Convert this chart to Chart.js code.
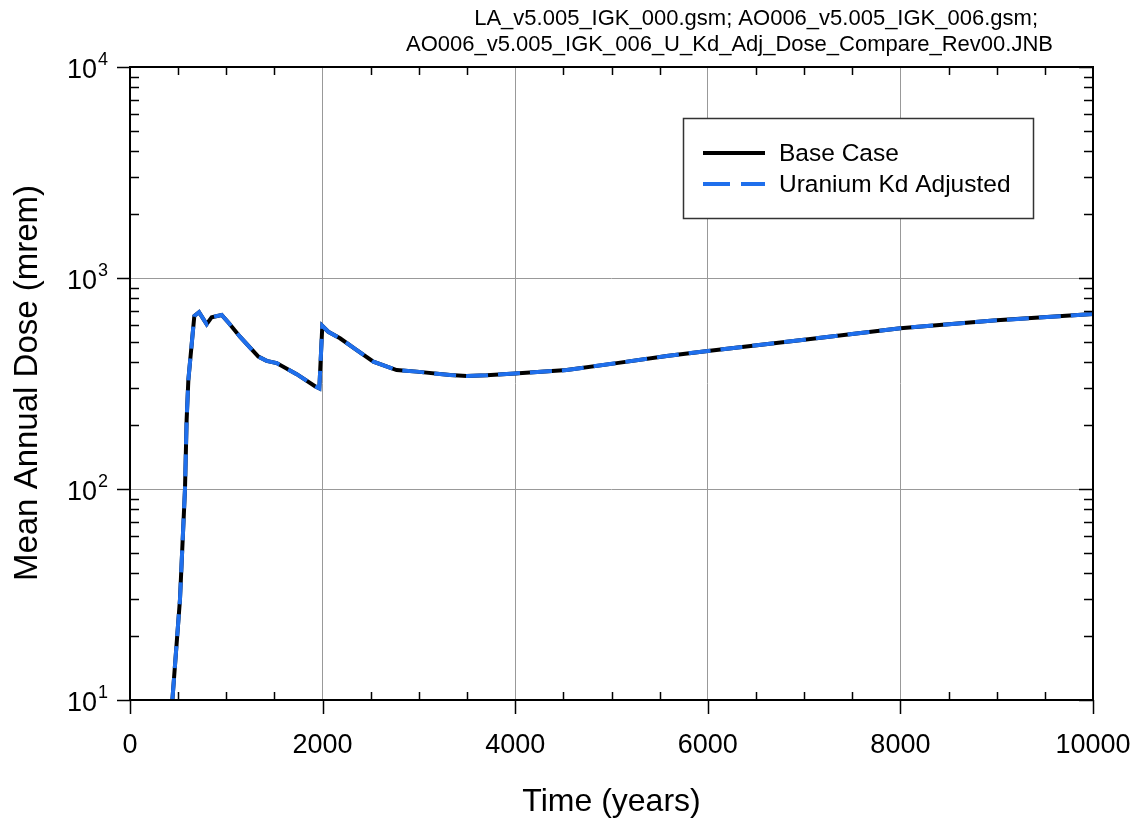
<!DOCTYPE html>
<html>
<head>
<meta charset="utf-8">
<script src="https://cdn.jsdelivr.net/npm/chart.js@4.4.1/dist/chart.umd.min.js"></script>
<style>
  body { margin: 0; background: #fff; }
  #wrap { width: 1135px; height: 822px; }
</style>
</head>
<body>
<div id="wrap"><canvas id="dose-chart" width="1135" height="822"></canvas></div>
<script>
const timeYears = [440, 519, 571, 588, 606, 668, 717, 796, 848, 952, 1028, 1142, 1333, 1419, 1523, 1731, 1921, 1966,
    1997, 2059, 2181, 2340, 2527, 2769, 2977, 3323, 3496, 3704, 3998, 4535, 5054, 5573, 6000, 7000, 8000, 9000, 10000];
const baseCaseDose = [10, 30, 100, 212, 329, 661, 688, 604, 652, 668, 610, 527, 424, 405, 395, 350, 307, 300,
    593, 556, 518, 460, 401, 366, 360, 347, 343, 346, 353, 366, 395, 427, 451, 510, 578, 630, 675];
const kdAdjustedDose = [10, 30, 100, 212, 329, 661, 688, 604, 652, 668, 610, 527, 424, 405, 395, 350, 307, 300,
    593, 556, 518, 460, 401, 366, 360, 347, 343, 346, 353, 366, 395, 427, 451, 510, 578, 630, 675];
const xTicks = [0, 2000, 4000, 6000, 8000, 10000];
const yTicks = [10, 100, 1000, 10000];
const legendLabels = ['Base Case', 'Uranium Kd Adjusted'];
const headerLines = ['LA_v5.005_IGK_000.gsm; AO006_v5.005_IGK_006.gsm;', 'AO006_v5.005_IGK_006_U_Kd_Adj_Dose_Compare_Rev00.JNB'];

const FONT = "'Liberation Sans', Arial, sans-serif";
const BLUE = '#1f6fec';

function toPoints(xs, ys) {
    return xs.map((x, i) => ({ x: x, y: ys[i] }));
}

// axes decorations, labels, legend and header drawn on top of the chart
const framePlugin = {
    id: 'frame',
    afterDraw(chart) {
        const ctx = chart.ctx;
        const area = chart.chartArea;
        const xs = chart.scales.x;
        const ys = chart.scales.y;
        ctx.save();

        // box
        ctx.strokeStyle = '#000';
        ctx.lineWidth = 2;
        ctx.strokeRect(area.left, area.top, area.right - area.left, area.bottom - area.top);

        ctx.lineWidth = 1.5;
        ctx.beginPath();
        // x minor ticks (inward, bottom and top)
        for (let t = 500; t < 10000; t += 500) {
            if (t % 2000 === 0) continue;
            const px = Math.round(xs.getPixelForValue(t)) + 0.5;
            ctx.moveTo(px, area.bottom); ctx.lineTo(px, area.bottom - 8);
            ctx.moveTo(px, area.top); ctx.lineTo(px, area.top + 8);
        }
        // x major ticks (outward)
        xTicks.forEach(t => {
            const px = Math.round(xs.getPixelForValue(t)) + 0.5;
            ctx.moveTo(px, area.bottom); ctx.lineTo(px, area.bottom + 14);
        });
        // y minor ticks (inward, left and right)
        for (let d = 10; d < 10000; d *= 10) {
            for (let m = 2; m <= 9; m++) {
                const py = Math.round(ys.getPixelForValue(d * m)) + 0.5;
                ctx.moveTo(area.left, py); ctx.lineTo(area.left + 9, py);
                ctx.moveTo(area.right, py); ctx.lineTo(area.right - 9, py);
            }
        }
        // y major ticks (outward)
        yTicks.forEach(v => {
            const py = Math.round(ys.getPixelForValue(v)) + 0.5;
            ctx.moveTo(area.left, py); ctx.lineTo(area.left - 13, py);
            ctx.moveTo(area.right, py); ctx.lineTo(area.right - 14, py);
        });
        ctx.stroke();

        // x tick labels
        ctx.fillStyle = '#000';
        ctx.font = '27px ' + FONT;
        ctx.textAlign = 'center';
        ctx.textBaseline = 'alphabetic';
        xTicks.forEach(t => {
            ctx.fillText(String(t), xs.getPixelForValue(t), 753);
        });

        // y tick labels 10^n
        yTicks.forEach(v => {
            const py = ys.getPixelForValue(v);
            const exp = String(Math.round(Math.log10(v)));
            ctx.font = '27px ' + FONT;
            ctx.textAlign = 'right';
            ctx.fillText('10', 97, py + 11);
            ctx.font = '18px ' + FONT;
            ctx.textAlign = 'left';
            ctx.fillText(exp, 98, py - 2);
        });

        // axis titles
        ctx.font = '32px ' + FONT;
        ctx.textAlign = 'center';
        ctx.fillText('Time (years)', (area.left + area.right) / 2, 811);
        ctx.save();
        ctx.translate(37, 383);
        ctx.rotate(-Math.PI / 2);
        ctx.font = '33px ' + FONT;
        ctx.fillText('Mean Annual Dose (mrem)', 0, 0);
        ctx.restore();

        // header
        ctx.font = '22px ' + FONT;
        ctx.textAlign = 'right';
        ctx.fillText(headerLines[0], 1038, 25);
        ctx.fillText(headerLines[1], 1053, 51);

        // legend
        ctx.fillStyle = '#fff';
        ctx.fillRect(683, 118, 350, 100);
        ctx.strokeStyle = '#333';
        ctx.lineWidth = 1.5;
        ctx.strokeRect(683.5, 118.5, 350, 100);
        ctx.lineWidth = 4;
        ctx.strokeStyle = '#000';
        ctx.beginPath(); ctx.moveTo(703, 153); ctx.lineTo(765, 153); ctx.stroke();
        ctx.strokeStyle = BLUE;
        ctx.setLineDash([27, 11]);
        ctx.beginPath(); ctx.moveTo(703, 184); ctx.lineTo(765, 184); ctx.stroke();
        ctx.setLineDash([]);
        ctx.fillStyle = '#000';
        ctx.font = '24.5px ' + FONT;
        ctx.textAlign = 'left';
        ctx.fillText(legendLabels[0], 779, 161);
        ctx.fillText(legendLabels[1], 779, 192);

        ctx.restore();
    }
};

new Chart(document.getElementById('dose-chart'), {
    type: 'line',
    data: {
        datasets: [
            {
                label: legendLabels[1],
                data: toPoints(timeYears, kdAdjustedDose),
                borderColor: BLUE,
                borderWidth: 4,
                borderDash: [22, 10],
                pointRadius: 0,
                tension: 0,
                order: 0
            },
            {
                label: legendLabels[0],
                data: toPoints(timeYears, baseCaseDose),
                borderColor: '#000',
                borderWidth: 4,
                pointRadius: 0,
                tension: 0,
                order: 1
            }
        ]
    },
    options: {
        responsive: false,
        animation: false,
        layout: { padding: { left: 0, right: 42, top: 67, bottom: 0 } },
        plugins: { legend: { display: false }, tooltip: { enabled: false } },
        scales: {
            x: {
                type: 'linear',
                min: 0,
                max: 10000,
                afterBuildTicks: s => { s.ticks = xTicks.map(v => ({ value: v })); },
                afterFit: s => { s.height = 122; },
                ticks: { display: false },
                grid: { color: '#999', lineWidth: 1, drawTicks: false },
                border: { display: false }
            },
            y: {
                type: 'logarithmic',
                min: 10,
                max: 10000,
                afterBuildTicks: s => { s.ticks = yTicks.map(v => ({ value: v })); },
                afterFit: s => { s.width = 130; },
                ticks: { display: false },
                grid: { color: '#999', lineWidth: 1, drawTicks: false },
                border: { display: false }
            }
        }
    },
    plugins: [framePlugin]
});
</script>
</body>
</html>
